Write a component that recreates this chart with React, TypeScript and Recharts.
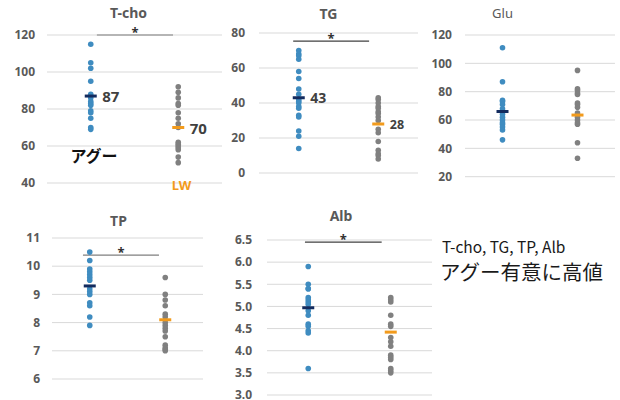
import React from 'react';
import { ScatterChart, Scatter, XAxis, YAxis, CartesianGrid, ReferenceLine } from 'recharts';

const groupNames = ['アグー', 'LW'];

const tchoAgu = [115, 105, 102, 95, 88, 86, 84, 83, 82, 79, 78, 75, 70, 69];
const tchoLW = [92, 89, 86, 83, 82, 78, 75, 72, 70, 62, 61, 60, 59, 58, 54, 51];
const tchoMean = [87, 70];
const tchoTicks = [40, 60, 80, 100, 120];

const tgAgu = [70, 68, 67, 65, 58, 54, 48, 45, 42, 41, 40, 38, 37, 33, 32, 24, 21, 14];
const tgLW = [43, 42, 40, 38, 37, 35, 34, 32, 30, 25, 23, 18, 13, 11, 10, 8];
const tgMean = [43, 28];
const tgTicks = [0, 20, 40, 60, 80];

const gluAgu = [111, 87, 74, 73, 71, 68, 66, 64, 62, 60, 58, 57, 55, 53, 46];
const gluLW = [95, 82, 81, 79, 78, 72, 71, 69, 65, 62, 60, 58, 57, 44, 33];
const gluMean = [66, 63.5];
const gluTicks = [20, 40, 60, 80, 100, 120];

const tpAgu = [10.5, 10.2, 9.9, 9.8, 9.7, 9.6, 9.5, 9.2, 9.1, 9.0, 8.7, 8.6, 8.2, 7.9];
const tpLW = [9.6, 9.0, 8.8, 8.6, 8.3, 8.2, 8.0, 7.9, 7.8, 7.7, 7.5, 7.2, 7.1, 7.05, 7.0];
const tpMean = [9.3, 8.1];
const tpTicks = [6, 7, 8, 9, 10, 11];

const albAgu = [5.9, 5.5, 5.4, 5.4, 5.2, 5.15, 5.1, 5.05, 4.9, 4.8, 4.6, 4.55, 4.45, 4.4, 3.6];
const albLW = [5.2, 5.15, 5.1, 4.8, 4.6, 4.55, 4.3, 4.2, 4.1, 3.9, 3.85, 3.8, 3.6, 3.55, 3.5];
const albMean = [4.97, 4.42];
const albTicks = [3.0, 3.5, 4.0, 4.5, 5.0, 5.5, 6.0, 6.5];

const noteLines = ['T-cho, TG, TP, Alb', 'アグー有意に高値'];

const FONT = '"Noto Sans", "Noto Sans CJK JP", sans-serif';
const BLUE = '#3F8CC0';
const GRAY = '#808080';
const NAVY = '#132B5E';
const ORANGE = '#F29B1D';

const Dot = (color: string) => (p: any) => <circle cx={p.cx} cy={p.cy} r={2.8} fill={color} />;

const MeanMark = (p: any) => {
  const { cx, cy, payload } = p;
  return (
    <g>
      <rect x={cx - 6} y={cy - 1.5} width={12} height={3} fill={payload.color} />
      {payload.label ? (
        <text x={cx + 11.5} y={cy} dominantBaseline="central" fontSize={payload.fs} fontWeight="bold" fill="#404040" fontFamily={FONT}>
          {payload.label}
        </text>
      ) : null}
    </g>
  );
};

type PanelProps = {
  agu: number[];
  lw: number[];
  means: number[];
  showLabels: boolean;
  labelSizes: number[];
  ticks: number[];
  fmt?: (v: number) => string;
  bracket: { x1: number; x2: number; y: number; color: string } | null;
  plot: { l: number; t: number; r: number; b: number };
  gap: number;
};

const YW = 45;
const MT = 30;
const MB = 12;
const MR = 30;

function Panel({ agu, lw, means, showLabels, labelSizes, ticks, fmt, bracket, plot, gap }: PanelProps) {
  const width = plot.r - plot.l + YW + MR;
  const height = plot.b - plot.t + MT + MB;
  const aguData = agu.map((v) => ({ x: 0.5, y: v }));
  const lwData = lw.map((v) => ({ x: 1.5, y: v }));
  const meanData = [
    { x: 0.5, y: means[0], color: NAVY, label: showLabels ? String(Math.round(means[0])) : '', fs: labelSizes[0] },
    { x: 1.5, y: means[1], color: ORANGE, label: showLabels ? String(Math.round(means[1])) : '', fs: labelSizes[1] },
  ];
  return (
    <div style={{ position: 'absolute', left: plot.l - YW, top: plot.t - MT, width, height }}>
      <ScatterChart width={width} height={height} margin={{ top: MT, right: MR, bottom: MB, left: 0 }} style={{ overflow: 'visible' }}>
        <CartesianGrid horizontal vertical={false} stroke="#D9D9D9" strokeWidth={1} />
        <XAxis type="number" dataKey="x" domain={[0, 2]} hide />
        <YAxis
          type="number"
          dataKey="y"
          width={YW}
          domain={[ticks[0], ticks[ticks.length - 1]]}
          ticks={ticks}
          interval={0}
          axisLine={false}
          tickLine={false}
          tickMargin={gap - 6}
          tickFormatter={fmt ? fmt : (v: number) => String(v)}
          tick={{ fill: '#595959', fontSize: 12, fontWeight: 'bold', fontFamily: FONT }}
        />
        {bracket ? (
          <ReferenceLine
            segment={[{ x: bracket.x1, y: bracket.y }, { x: bracket.x2, y: bracket.y }]}
            stroke={bracket.color}
            strokeWidth={1.2}
            ifOverflow="visible"
            label={{ value: '*', position: 'top', offset: -2, fill: '#333', fontSize: 13, fontWeight: 'bold', fontFamily: FONT }}
          />
        ) : null}
        <Scatter data={aguData} shape={Dot(BLUE)} isAnimationActive={false} />
        <Scatter data={lwData} shape={Dot(GRAY)} isAnimationActive={false} />
        <Scatter data={meanData} shape={MeanMark} isAnimationActive={false} />
      </ScatterChart>
    </div>
  );
}

export default function App() {
  return (
    <div style={{ position: 'absolute', left: 0, top: 0, width: 620, height: 400, background: '#fff', fontFamily: FONT }}>
      <Panel agu={tchoAgu} lw={tchoLW} means={tchoMean} showLabels labelSizes={[15, 15]} ticks={tchoTicks}
        bracket={{ x1: 0.57, x2: 1.44, y: 120, color: '#7F7F7F' }} plot={{ l: 47, t: 35, r: 222, b: 183 }} gap={12} />
      <Panel agu={tgAgu} lw={tgLW} means={tgMean} showLabels labelSizes={[14, 12.5]} ticks={tgTicks}
        bracket={{ x1: 0.43, x2: 1.385, y: 75.4, color: '#404040' }} plot={{ l: 259, t: 33.3, r: 418, b: 173.3 }} gap={14} />
      <Panel agu={gluAgu} lw={gluLW} means={gluMean} showLabels={false} labelSizes={[12, 12]} ticks={gluTicks}
        bracket={null} plot={{ l: 465, t: 35, r: 615, b: 176.7 }} gap={13} />
      <Panel agu={tpAgu} lw={tpLW} means={tpMean} showLabels={false} labelSizes={[12, 12]} ticks={tpTicks}
        bracket={{ x1: 0.41, x2: 1.417, y: 10.39, color: '#7F7F7F' }} plot={{ l: 52, t: 238.3, r: 203, b: 379.3 }} gap={12} />
      <Panel agu={albAgu} lw={albLW} means={albMean} showLabels={false} labelSizes={[12, 12]} ticks={albTicks}
        fmt={(v: number) => v.toFixed(1)}
        bracket={{ x1: 0.46, x2: 1.39, y: 6.45, color: '#404040' }} plot={{ l: 267, t: 240, r: 432, b: 395 }} gap={15} />
      <svg width={620} height={400} style={{ position: 'absolute', left: 0, top: 0, pointerEvents: 'none' }}>
        <g fontFamily={FONT} fill="#595959" fontSize={14} textAnchor="middle">
          <text x={128.5} y={12} dominantBaseline="central" fontWeight="bold">T-cho</text>
          <text x={328.5} y={13} dominantBaseline="central" fontWeight="bold">TG</text>
          <text x={502.5} y={13} dominantBaseline="central" fontWeight="normal" fontSize={13}>Glu</text>
          <text x={118.5} y={220} dominantBaseline="central" fontWeight="bold">TP</text>
          <text x={341} y={215} dominantBaseline="central" fontWeight="bold">Alb</text>
        </g>
        <text x={94} y={155} dominantBaseline="central" textAnchor="middle" fontFamily={'"Noto Sans CJK JP", sans-serif'} fontWeight="bold" fontSize={16} fill="#111">{groupNames[0]}</text>
        <text x={181.5} y={185} dominantBaseline="central" textAnchor="middle" fontFamily={FONT} fontWeight="bold" fontSize={13} fill={ORANGE}>{groupNames[1]}</text>
        <text x={442} y={253} fontFamily={'"Noto Sans CJK JP", sans-serif'} fontSize={15.5} fill="#1a1a1a">{noteLines[0]}</text>
        <text x={440} y={271} dominantBaseline="central" fontFamily={'"Noto Sans CJK JP", sans-serif'} fontSize={20.5} fill="#1a1a1a">{noteLines[1]}</text>
      </svg>
    </div>
  );
}
